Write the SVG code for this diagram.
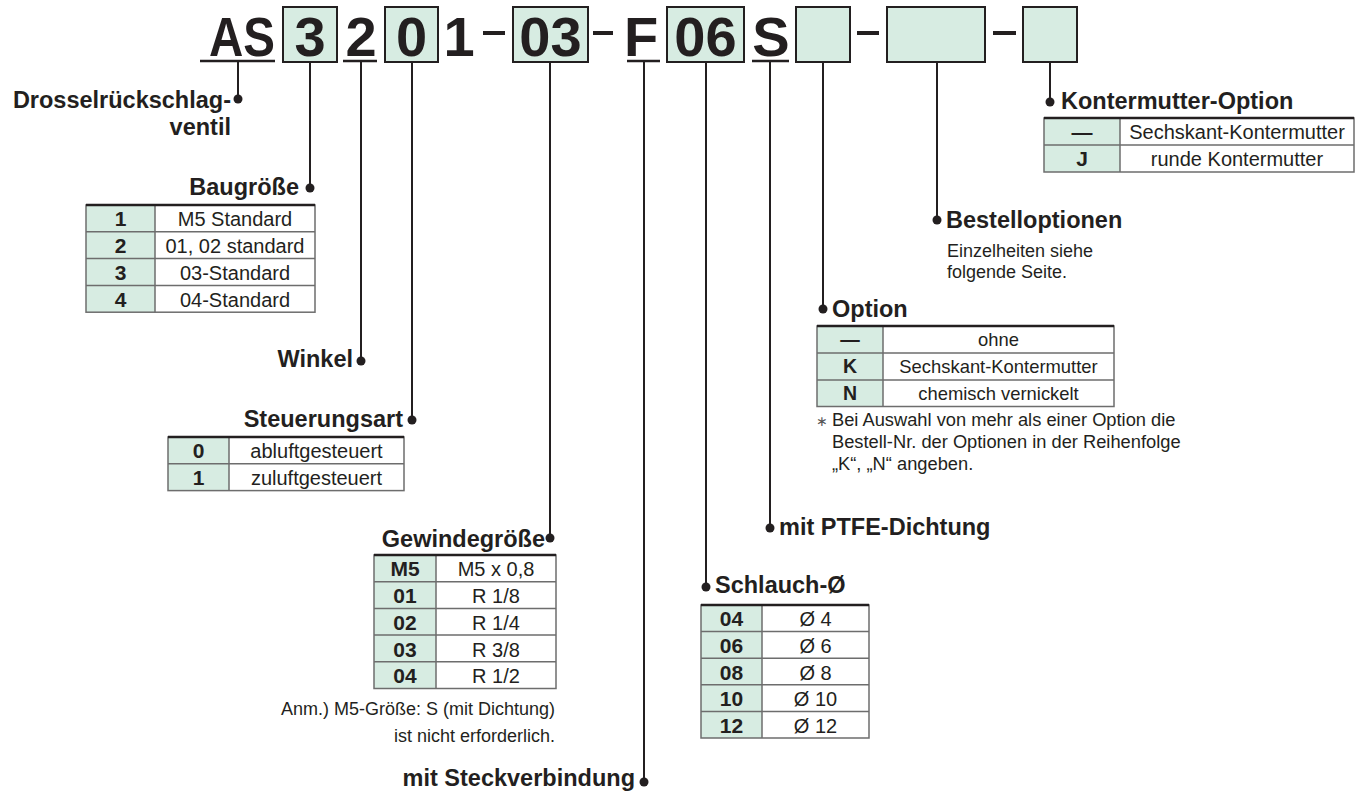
<svg xmlns="http://www.w3.org/2000/svg" width="1364" height="798" viewBox="0 0 1364 798">
<style>
text{font-family:"Liberation Sans",Arial,Helvetica,sans-serif;fill:#231f20}
.big{font-weight:bold;font-size:56px;text-anchor:middle}
.h{font-weight:bold;font-size:23.5px}
.e{text-anchor:end}
.c{font-weight:bold;font-size:21px;text-anchor:middle}
.d{font-size:20px;text-anchor:middle}
.c2{font-weight:bold;font-size:19.5px;text-anchor:middle}
.d2{font-size:18.4px;text-anchor:middle}
.n{font-size:18px}
.n2{font-size:18.3px}
.box{fill:#d7ece2;stroke:#231f20;stroke-width:2}
.cell{fill:#d7ece2;stroke:none}
.bg{fill:#fff;stroke:none}
.grid{stroke:#6d6d6d;stroke-width:1.5;fill:none}
.top{stroke:#231f20;stroke-width:2.5}
.ul{stroke:#231f20;stroke-width:2.5}
.dash{fill:#231f20}
.ln{stroke:#231f20;stroke-width:2;fill:none}
.dot{fill:#231f20}
</style>

<g id="code">
  <text class="big" x="209" y="56" style="text-anchor:start" textLength="66" lengthAdjust="spacingAndGlyphs">AS</text>
  <line class="ul" x1="200" y1="61" x2="275" y2="61"/>
  <rect class="box" x="283" y="7" width="54" height="55"/>
  <text class="big" x="310" y="56">3</text>
  <text class="big" x="361" y="56">2</text>
  <line class="ul" x1="343" y1="61" x2="377" y2="61"/>
  <rect class="box" x="385" y="7" width="53" height="55"/>
  <text class="big" x="411.5" y="56">0</text>
  <text class="big" x="459" y="56">1</text>
  <rect class="dash" x="483" y="31" width="22" height="4"/>
  <rect class="box" x="513" y="7" width="75" height="55"/>
  <text class="big" x="550.5" y="56">03</text>
  <rect class="dash" x="593" y="31" width="20" height="4"/>
  <text class="big" x="641" y="56">F</text>
  <line class="ul" x1="627" y1="61" x2="660" y2="61"/>
  <rect class="box" x="667" y="7" width="77" height="55"/>
  <text class="big" x="705.5" y="56">06</text>
  <text class="big" x="771" y="56">S</text>
  <line class="ul" x1="752" y1="61" x2="789" y2="61"/>
  <rect class="box" x="796" y="7" width="54" height="55"/>
  <rect class="dash" x="857" y="31" width="22" height="4"/>
  <rect class="box" x="887" y="7" width="98" height="55"/>
  <rect class="dash" x="993" y="31" width="23" height="4"/>
  <rect class="box" x="1023" y="7" width="54" height="55"/>
</g>

<g id="connectors">
  <path class="ln" d="M238 62V99 M310 62V188 M361 62V361 M412 62V420 M550 62V538 M644 62V782 M706 62V587 M770 62V528 M823 62V309 M937 62V220 M1050 62V102"/>
  <circle class="dot" cx="238" cy="99" r="4.5"/>
  <circle class="dot" cx="310" cy="188" r="4.5"/>
  <circle class="dot" cx="361" cy="361" r="4.5"/>
  <circle class="dot" cx="412" cy="420" r="4.5"/>
  <circle class="dot" cx="550" cy="538" r="4.5"/>
  <circle class="dot" cx="644" cy="782" r="4.5"/>
  <circle class="dot" cx="706" cy="587" r="4.5"/>
  <circle class="dot" cx="770" cy="528" r="4.5"/>
  <circle class="dot" cx="823" cy="309" r="4.5"/>
  <circle class="dot" cx="937" cy="220" r="4.5"/>
  <circle class="dot" cx="1050" cy="102" r="4.5"/>
</g>

<g id="drossel">
  <text class="h e" x="231" y="108">Drosselrückschlag-</text>
  <text class="h e" x="231" y="135">ventil</text>
</g>

<g id="baugroesse">
  <text class="h e" x="299" y="195">Baugröße</text>
  <rect class="bg" x="86" y="205" width="229" height="107.2"/>
  <rect class="cell" x="86" y="205" width="69" height="107.2"/>
  <rect class="grid" x="86" y="205" width="229" height="107.2"/>
  <path class="grid" d="M155 205V312.2 M86 231.8H315 M86 258.6H315 M86 285.4H315"/>
  <line class="top" x1="86" y1="205" x2="315" y2="205"/>
  <text class="c" x="120.5" y="226.4">1</text><text class="d" x="235" y="226.4">M5 Standard</text>
  <text class="c" x="120.5" y="253.2">2</text><text class="d" x="235" y="253.2">01, 02 standard</text>
  <text class="c" x="120.5" y="280">3</text><text class="d" x="235" y="280">03-Standard</text>
  <text class="c" x="120.5" y="306.8">4</text><text class="d" x="235" y="306.8">04-Standard</text>
</g>

<g id="winkel">
  <text class="h e" x="353" y="367">Winkel</text>
</g>

<g id="steuerungsart">
  <text class="h e" x="403" y="427">Steuerungsart</text>
  <rect class="bg" x="168" y="437" width="236" height="53.6"/>
  <rect class="cell" x="168" y="437" width="61" height="53.6"/>
  <rect class="grid" x="168" y="437" width="236" height="53.6"/>
  <path class="grid" d="M229 437V490.6 M168 463.8H404"/>
  <line class="top" x1="168" y1="437" x2="404" y2="437"/>
  <text class="c" x="198.5" y="458.4">0</text><text class="d" x="316.5" y="458.4">abluftgesteuert</text>
  <text class="c" x="198.5" y="485.2">1</text><text class="d" x="316.5" y="485.2">zuluftgesteuert</text>
</g>

<g id="gewinde">
  <text class="h e" x="545" y="547">Gewindegröße</text>
  <rect class="bg" x="374" y="555" width="182" height="133.5"/>
  <rect class="cell" x="374" y="555" width="62" height="133.5"/>
  <rect class="grid" x="374" y="555" width="182" height="133.5"/>
  <path class="grid" d="M436 555V688.5 M374 581.7H556 M374 608.4H556 M374 635.1H556 M374 661.8H556"/>
  <line class="top" x1="374" y1="555" x2="556" y2="555"/>
  <text class="c" x="405" y="576.4">M5</text><text class="d" x="496" y="576.4">M5 x 0,8</text>
  <text class="c" x="405" y="603.1">01</text><text class="d" x="496" y="603.1">R 1/8</text>
  <text class="c" x="405" y="629.8">02</text><text class="d" x="496" y="629.8">R 1/4</text>
  <text class="c" x="405" y="656.5">03</text><text class="d" x="496" y="656.5">R 3/8</text>
  <text class="c" x="405" y="683.2">04</text><text class="d" x="496" y="683.2">R 1/2</text>
  <text class="n e" x="555" y="715">Anm.) M5-Größe: S (mit Dichtung)</text>
  <text class="n e" x="555" y="742">ist nicht erforderlich.</text>
</g>

<g id="steckverbindung">
  <text class="h e" x="635" y="786">mit Steckverbindung</text>
</g>

<g id="schlauch">
  <text class="h" x="715" y="593">Schlauch-Ø</text>
  <rect class="bg" x="701" y="605" width="168" height="133"/>
  <rect class="cell" x="701" y="605" width="61" height="133"/>
  <rect class="grid" x="701" y="605" width="168" height="133"/>
  <path class="grid" d="M762 605V738 M701 631.6H869 M701 658.2H869 M701 684.8H869 M701 711.4H869"/>
  <line class="top" x1="701" y1="605" x2="869" y2="605"/>
  <text class="c" x="731.5" y="626.3">04</text><text class="d" x="815.5" y="626.3">Ø 4</text>
  <text class="c" x="731.5" y="652.9">06</text><text class="d" x="815.5" y="652.9">Ø 6</text>
  <text class="c" x="731.5" y="679.5">08</text><text class="d" x="815.5" y="679.5">Ø 8</text>
  <text class="c" x="731.5" y="706.1">10</text><text class="d" x="815.5" y="706.1">Ø 10</text>
  <text class="c" x="731.5" y="732.7">12</text><text class="d" x="815.5" y="732.7">Ø 12</text>
</g>

<g id="ptfe">
  <text class="h" x="779" y="535">mit PTFE-Dichtung</text>
</g>

<g id="option">
  <text class="h" x="832" y="317">Option</text>
  <rect class="bg" x="817" y="326" width="297" height="80.5"/>
  <rect class="cell" x="817" y="326" width="66" height="80.5"/>
  <rect class="grid" x="817" y="326" width="297" height="80.5"/>
  <path class="grid" d="M883 326V406.5 M817 353H1114 M817 380H1114"/>
  <line class="top" x1="817" y1="326" x2="1114" y2="326"/>
  <text class="c2" x="850" y="346.4">—</text><text class="d2" x="998.5" y="346">ohne</text>
  <text class="c2" x="850" y="373">K</text><text class="d2" x="998.5" y="373">Sechskant-Kontermutter</text>
  <text class="c2" x="850" y="400">N</text><text class="d2" x="998.5" y="400">chemisch vernickelt</text>
  <text class="n2" y="426"><tspan x="816" style="font-size:14px;fill:#555">∗</tspan><tspan x="832">Bei Auswahl von mehr als einer Option die</tspan></text>
  <text class="n2" x="832" y="448">Bestell-Nr. der Optionen in der Reihenfolge</text>
  <text class="n2" x="832" y="470">„K“, „N“ angeben.</text>
</g>

<g id="bestelloptionen">
  <text class="h" x="946" y="228">Bestelloptionen</text>
  <text class="n" x="947" y="257">Einzelheiten siehe</text>
  <text class="n" x="947" y="278">folgende Seite.</text>
</g>

<g id="kontermutter">
  <text class="h" x="1061" y="109">Kontermutter-Option</text>
  <rect class="bg" x="1044" y="118" width="310" height="54"/>
  <rect class="cell" x="1044" y="118" width="76" height="54"/>
  <rect class="grid" x="1044" y="118" width="310" height="54"/>
  <path class="grid" d="M1120 118V172 M1044 145H1354"/>
  <line class="top" x1="1044" y1="118" x2="1354" y2="118"/>
  <text class="c" x="1082" y="139">—</text><text class="d" x="1237" y="138.5">Sechskant-Kontermutter</text>
  <text class="c" x="1082" y="166">J</text><text class="d" x="1237" y="165.5">runde Kontermutter</text>
</g>
</svg>
